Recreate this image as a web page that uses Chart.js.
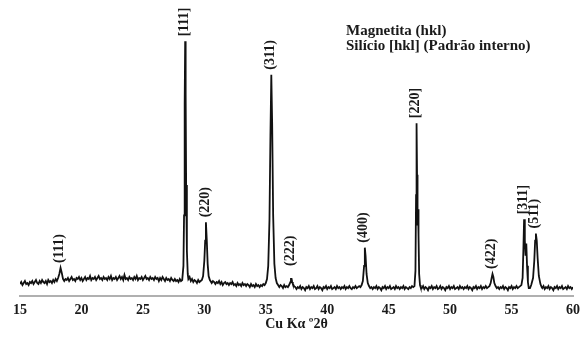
<!DOCTYPE html>
<html>
<head>
<meta charset="utf-8">
<script src="https://cdn.jsdelivr.net/npm/chart.js@4.4.1/dist/chart.umd.min.js"></script>
<style>
  html, body { margin: 0; padding: 0; background: #fff; }
  #wrap { width: 580px; height: 338px; }
</style>
</head>
<body>
<div id="wrap"><canvas id="c" width="580" height="338"></canvas></div>
<script>
// Scan: [2θ (degrees), intensity (arb. units)]
const scan15to28 = [
  [15.0,12],[15.1,14],[15.2,11],[15.3,13],[15.4,15],[15.5,12],[15.6,13],[15.7,11],[15.8,14],[15.9,13],
  [16.0,15],[16.1,12],[16.2,14],[16.3,16],[16.4,13],[16.5,12],[16.6,15],[16.7,13],[16.8,16],[16.9,14],
  [17.0,13],[17.1,15],[17.2,12],[17.3,16],[17.4,14],[17.5,15],[17.6,13],[17.7,16],[17.8,14],[17.9,17],
  [18.0,15],[18.1,18],[18.2,22],[18.3,28],[18.4,23],[18.5,17],
  [18.6,15],[18.7,17],[18.8,16],[18.9,18],[19.0,15],[19.1,17],[19.2,19],[19.3,16],[19.4,17],[19.5,15],
  [19.6,18],[19.7,17],[19.8,19],[19.9,16],[20.0,18],[20.1,15],[20.2,17],[20.3,19],[20.4,16],[20.5,18],
  [20.6,17],[20.7,20],[20.8,16],[20.9,18],[21.0,17],[21.1,19],[21.2,16],[21.3,18],[21.4,20],[21.5,17],
  [21.6,18],[21.7,16],[21.8,19],[21.9,17],[22.0,18],[22.1,16],[22.2,19],[22.3,17],[22.4,20],[22.5,16],
  [22.6,18],[22.7,17],[22.8,19],[22.9,16],[23.0,18],[23.1,20],[23.2,17],[23.3,19],[23.4,16],[23.5,21],
  [23.6,17],[23.7,18],[23.8,16],[23.9,19],[24.0,17],[24.1,18],[24.2,16],[24.3,19],[24.4,17],[24.5,20],
  [24.6,16],[24.7,18],[24.8,17],[24.9,19],[25.0,16],[25.1,18],[25.2,20],[25.3,17],[25.4,18],[25.5,16],
  [25.6,19],[25.7,17],[25.8,18],[25.9,16],[26.0,19],[26.1,17],[26.2,18],[26.3,15],[26.4,18],[26.5,16],
  [26.6,19],[26.7,17],[26.8,15],[26.9,18],[27.0,16],[27.1,17],[27.2,15],[27.3,18],[27.4,16],[27.5,15],
  [27.6,17],[27.7,15],[27.8,16],[27.9,14],[28.0,17],[28.1,15],[28.2,16]
];
const scan28to37 = [
  [28.3,30],[28.35,80],[28.4,190],[28.44,252],[28.48,200],[28.52,110],[28.58,45],[28.65,22],
  [28.7,17],[28.8,19],[28.9,15],[29.0,17],[29.1,14],[29.2,16],[29.3,15],[29.4,13],[29.5,16],[29.6,14],[29.7,15],
  [29.8,16],[29.9,20],[30.0,35],[30.07,55],[30.13,73],[30.2,55],[30.27,32],[30.35,20],[30.45,16],
  [30.5,15],[30.6,13],[30.7,15],[30.8,14],[30.9,12],[31.0,14],[31.1,13],[31.2,15],[31.3,12],[31.4,14],
  [31.5,11],[31.6,13],[31.7,14],[31.8,12],[31.9,13],[32.0,11],[32.1,13],[32.2,12],[32.3,14],[32.4,11],
  [32.5,12],[32.6,10],[32.7,13],[32.8,11],[32.9,12],[33.0,10],[33.1,13],[33.2,11],[33.3,12],[33.4,10],
  [33.5,12],[33.6,11],[33.7,9],[33.8,12],[33.9,10],[34.0,11],[34.1,9],[34.2,12],[34.3,10],[34.4,11],
  [34.5,9],[34.6,11],[34.7,10],[34.8,12],[34.9,11],[35.0,13],
  [35.1,17],[35.2,30],[35.3,75],[35.38,160],[35.45,219],[35.52,170],[35.6,80],[35.7,32],[35.8,18],[35.9,13],
  [36.0,11],[36.1,9],[36.2,11],[36.3,10],[36.4,8],[36.5,11],[36.6,9],[36.7,10],[36.8,9],[36.9,11],
  [37.0,14],[37.05,17],[37.1,17],[37.15,14],[37.2,12],[37.3,10]
];
const scan37to47 = [
  [37.4,9],[37.5,7],[37.6,9],[37.7,8],[37.8,10],[37.9,7],[38.0,9],[38.1,8],[38.2,6],[38.3,9],
  [38.4,8],[38.5,10],[38.6,7],[38.7,9],[38.8,8],[38.9,10],[39.0,7],[39.1,8],[39.2,10],[39.3,7],
  [39.4,9],[39.5,8],[39.6,6],[39.7,9],[39.8,8],[39.9,10],[40.0,7],[40.1,9],[40.2,8],[40.3,10],
  [40.4,7],[40.5,8],[40.6,9],[40.7,7],[40.8,10],[40.9,8],[41.0,9],[41.1,7],[41.2,9],[41.3,8],
  [41.4,10],[41.5,7],[41.6,9],[41.7,8],[41.8,10],[41.9,8],[42.0,7],[42.1,9],[42.2,8],[42.3,10],
  [42.4,8],[42.5,9],[42.6,10],[42.7,9],[42.8,11],
  [42.9,15],[43.0,30],[43.06,48],[43.12,40],[43.2,22],[43.3,13],
  [43.4,10],[43.5,8],[43.6,9],[43.7,7],[43.8,9],[43.9,8],[44.0,10],[44.1,7],[44.2,9],[44.3,8],
  [44.4,6],[44.5,9],[44.6,8],[44.7,10],[44.8,7],[44.9,9],[45.0,8],[45.1,10],[45.2,7],[45.3,8],
  [45.4,9],[45.5,7],[45.6,10],[45.7,8],[45.8,9],[45.9,7],[46.0,9],[46.1,8],[46.2,10],[46.3,7],
  [46.4,9],[46.5,8],[46.6,7],[46.7,9],[46.8,8],[46.9,10],[47.0,9],[47.1,10]
];
const scan47to60 = [
  [47.18,25],[47.23,100],[47.27,171],[47.31,120],[47.35,70],[47.39,86],[47.43,60],[47.48,22],[47.55,11],
  [47.6,9],[47.7,8],[47.8,10],[47.9,7],[48.0,9],[48.1,8],[48.2,6],[48.3,9],[48.4,8],[48.5,10],
  [48.6,7],[48.7,9],[48.8,8],[48.9,10],[49.0,7],[49.1,8],[49.2,10],[49.3,7],[49.4,9],[49.5,8],
  [49.6,6],[49.7,9],[49.8,8],[49.9,10],[50.0,7],[50.1,9],[50.2,8],[50.3,10],[50.4,7],[50.5,8],
  [50.6,9],[50.7,7],[50.8,10],[50.9,8],[51.0,9],[51.1,7],[51.2,9],[51.3,8],[51.4,10],[51.5,7],
  [51.6,9],[51.7,8],[51.8,6],[51.9,9],[52.0,8],[52.1,10],[52.2,7],[52.3,9],[52.4,8],[52.5,10],
  [52.6,7],[52.7,9],[52.8,8],[52.9,10],[53.0,8],[53.1,9],[53.2,10],
  [53.3,13],[53.38,18],[53.45,22],[53.52,19],[53.6,13],[53.7,10],
  [53.8,8],[53.9,9],[54.0,7],[54.1,9],[54.2,8],[54.3,10],[54.4,7],[54.5,9],[54.6,8],[54.7,6],
  [54.8,9],[54.9,8],[55.0,10],[55.1,7],[55.2,9],[55.3,8],[55.4,10],[55.5,8],[55.6,9],[55.7,10],[55.8,11],
  [55.9,18],[55.96,45],[56.02,76],[56.08,55],[56.14,40],[56.2,52],[56.26,30],[56.33,14],[56.4,8],[56.5,8],
  [56.6,11],[56.75,18],[56.85,35],[56.92,55],[56.98,62],[57.05,55],[57.12,38],[57.22,20],[57.35,12],[57.45,9],
  [57.5,8],[57.6,10],[57.7,7],[57.8,9],[57.9,8],[58.0,10],[58.1,7],[58.2,9],[58.3,8],[58.4,6],
  [58.5,9],[58.6,8],[58.7,10],[58.8,7],[58.9,9],[59.0,8],[59.1,10],[59.2,7],[59.3,8],[59.4,9],
  [59.5,7],[59.6,10],[59.7,8],[59.8,9],[59.9,7],[60.0,9]
];
// peak annotations: Magnetite (hkl) and Silicon [hkl]
const peakLabels = ["(111)","[111]","(220)","(311)","(222)","(400)","[220]","(422)","[311]","(511)"];
const peakPos    = [18.3, 28.44, 30.13, 35.45, 37.1, 43.06, 47.27, 53.45, 56.02, 56.98];
const peakTop    = [28, 252, 73, 219, 17, 48, 171, 22, 76, 62];
const legendLines = ["Magnetita (hkl)", "Silício [hkl] (Padrão interno)"];
const xTicks = [15,20,25,30,35,40,45,50,55,60];
const xTitle = "Cu Kα º2θ";

const SERIF = '"Liberation Serif", "Times New Roman", serif';
const points = [].concat(scan15to28, scan28to37, scan37to47, scan47to60).map(p => ({ x: p[0], y: p[1] }));

const annot = {
  id: 'annot',
  afterDatasetsDraw(chart) {
    const ctx = chart.ctx;
    const xs = chart.scales.x, ys = chart.scales.y;
    const area = chart.chartArea;
    ctx.save();
    ctx.fillStyle = '#1a1a1a';
    ctx.font = 'bold 14px ' + SERIF;
    ctx.textBaseline = 'middle';
    ctx.textAlign = 'left';
    peakLabels.forEach((t, i) => {
      const px = xs.getPixelForValue(peakPos[i]);
      const py = ys.getPixelForValue(peakTop[i]);
      const gap = t === "(222)" ? 13 : 5;
      ctx.save();
      ctx.translate(px - 1, py - gap);
      ctx.rotate(-Math.PI / 2);
      ctx.fillText(t, 0, 0);
      ctx.restore();
    });
    ctx.textBaseline = 'alphabetic';
    ctx.font = 'bold 15px ' + SERIF;
    legendLines.forEach((t, i) => {
      ctx.fillText(t, 346, 35 + i * 15);
    });
    ctx.font = 'bold 14px ' + SERIF;
    ctx.textAlign = 'center';
    ctx.textBaseline = 'middle';
    ctx.fillText(xTitle, (area.left + area.right) / 2, 324);
    ctx.restore();
  }
};

new Chart(document.getElementById('c'), {
  type: 'line',
  data: {
    datasets: [{
      data: points,
      borderColor: '#111',
      borderWidth: 1.8,
      pointRadius: 0,
      tension: 0,
      fill: false
    }]
  },
  options: {
    responsive: false,
    animation: false,
    layout: { padding: { left: 20, right: 7, top: 10, bottom: 13 } },
    plugins: { legend: { display: false }, tooltip: { enabled: false } },
    scales: {
      x: {
        type: 'linear',
        min: 15, max: 60,
        afterBuildTicks: (s) => { s.ticks = xTicks.map(v => ({ value: v })); },
        afterFit: (s) => { s.paddingLeft = 0; s.paddingRight = 0; },
        grid: { display: false, drawTicks: false },
        border: { display: true, color: '#b0b0b0', width: 2 },
        ticks: {
          color: '#1a1a1a', padding: 6,
          font: { family: SERIF, size: 14, weight: 'bold' },
          maxRotation: 0
        },
        title: { display: false }
      },
      y: {
        display: false,
        min: 0, max: 283
      }
    }
  },
  plugins: [annot]
});
</script>
</body>
</html>
